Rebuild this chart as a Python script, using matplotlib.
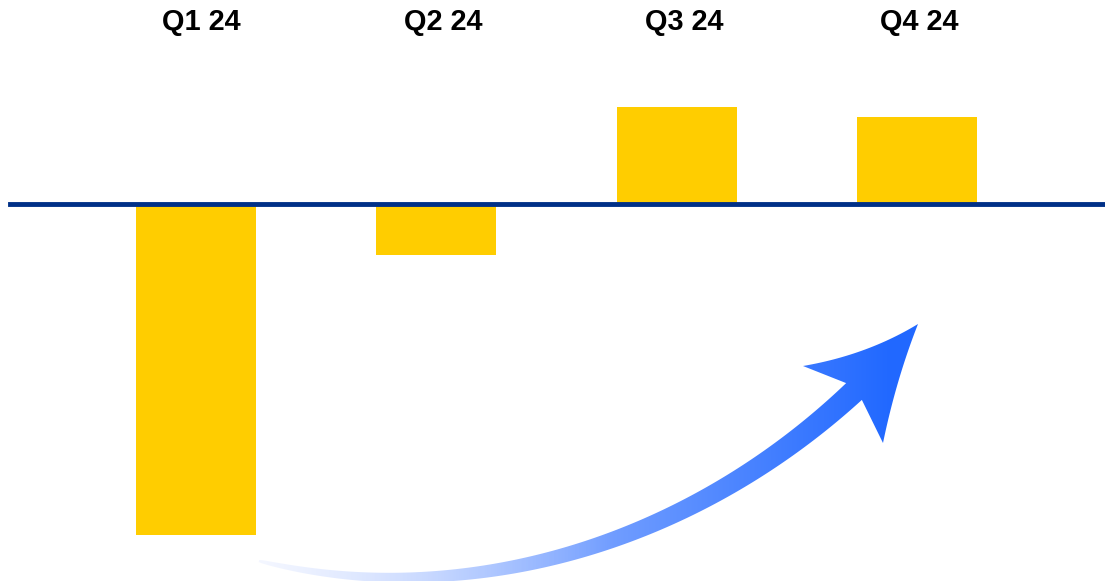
import numpy as np
import matplotlib
matplotlib.use("Agg")
import matplotlib.pyplot as plt
from matplotlib.path import Path
from matplotlib.patches import PathPatch

# Quarterly results
quarters = ["Q1 24", "Q2 24", "Q3 24", "Q4 24"]
values = [-33.1, -5.1, 9.7, 8.7]

BAR_COLOR = "#FFCD00"
AXIS_COLOR = "#003087"
W, H = 1105, 581
BAR_STEP_PX = 240.3
LABEL_SHIFT_PX = [5.5, 6.5, 7.5, 2.0]

fig = plt.figure(figsize=(W / 100, H / 100), dpi=100)
fig.patch.set_facecolor("white")

ax = fig.add_axes([0, 0, 1, 1], zorder=0)
x = np.arange(len(quarters))
ax.bar(x, values, width=0.5, color=BAR_COLOR, zorder=2)
ax.set_xlim(-0.816, 3.783)
ax.set_ylim(-37.7, 20.4)
ax.axhline(0, xmin=10 / W, xmax=1, color=AXIS_COLOR, lw=3.5, zorder=3)
for xi, q, dx in zip(x, quarters, LABEL_SHIFT_PX):
    ax.text(xi + dx / BAR_STEP_PX, 0.962, q, transform=ax.get_xaxis_transform(),
            ha="center", va="center", fontsize=20.8, fontweight="bold",
            family="Liberation Sans", color="#000000")
ax.axis("off")

# Decorative upward trend arrow with a blue gradient (pixel-space overlay)
ov = fig.add_axes([0, 0, 1, 1], zorder=1)
ov.axis("off")
ov.patch.set_alpha(0)

guide = np.array([[259, 561], [330, 570.5], [420, 575], [500, 571],
                  [575, 554], [650, 528], [700, 502], [767, 456],
                  [815, 421], [854, 391.5]], dtype=float)

# least-squares cubic Bezier through the guide, endpoints fixed
seg = np.linalg.norm(np.diff(guide, axis=0), axis=1)
u = np.concatenate([[0], np.cumsum(seg)]) / seg.sum()
b0, b1, b2, b3 = (1 - u) ** 3, 3 * u * (1 - u) ** 2, 3 * u ** 2 * (1 - u), u ** 3
rhs = guide - np.outer(b0, guide[0]) - np.outer(b3, guide[-1])
ctrl, *_ = np.linalg.lstsq(np.column_stack([b1, b2]), rhs, rcond=None)
P0, P1, P2, P3 = guide[0], ctrl[0], ctrl[1], guide[-1]

t = np.linspace(0, 1, 300)[:, None]
c = (1 - t) ** 3 * P0 + 3 * t * (1 - t) ** 2 * P1 + 3 * t ** 2 * (1 - t) * P2 + t ** 3 * P3
d = 3 * (1 - t) ** 2 * (P1 - P0) + 6 * t * (1 - t) * (P2 - P1) + 3 * t ** 2 * (P3 - P2)
d = d / np.linalg.norm(d, axis=1, keepdims=True)
n = np.column_stack([d[:, 1], -d[:, 0]])
tt = t[:, 0]
w = (2.0 + 21.0 * np.sqrt(tt) * (1.0 - 0.25 * (1 - tt))) / 2
upper = c + n * w[:, None]
lower = c - n * w[:, None]


def quad(a, ctl, b, k=30):
    s = np.linspace(0, 1, k)[:, None]
    return (1 - s) ** 2 * np.array(a) + 2 * s * (1 - s) * np.array(ctl) + s ** 2 * np.array(b)


barb_l, tip, barb_r = (803, 366), (918, 324), (883, 443)
head = np.vstack([
    [barb_l],
    quad(barb_l, (867, 355), tip),
    quad(tip, (896, 380), barb_r)[1:],
])
verts = np.vstack([upper, head, lower[::-1], upper[:1]])
codes = [Path.MOVETO] + [Path.LINETO] * (len(verts) - 2) + [Path.CLOSEPOLY]
arrow = PathPatch(Path(verts, codes), facecolor="none", edgecolor="none")
ov.add_patch(arrow)

xs = np.linspace(0, 1, 512)
light = np.array([0.84, 0.88, 1.0])
strong = np.array([0.13, 0.41, 1.0])
mix = np.clip(xs * 1.05, 0, 1)
rgb = light[None, :] * (1 - mix[:, None]) + strong[None, :] * mix[:, None]
alpha = np.clip(0.25 + 1.4 * xs, 0, 1)
img = np.concatenate([rgb, alpha[:, None]], axis=1)[None, :, :]
img = np.repeat(img, 4, axis=0)
im = ov.imshow(img, extent=(255, 922, 585, 315), aspect="auto",
               interpolation="bilinear", zorder=2)
im.set_clip_path(arrow)
ov.set_xlim(0, W)
ov.set_ylim(H, 0)

fig.savefig("out.png", dpi=100, facecolor="white")
